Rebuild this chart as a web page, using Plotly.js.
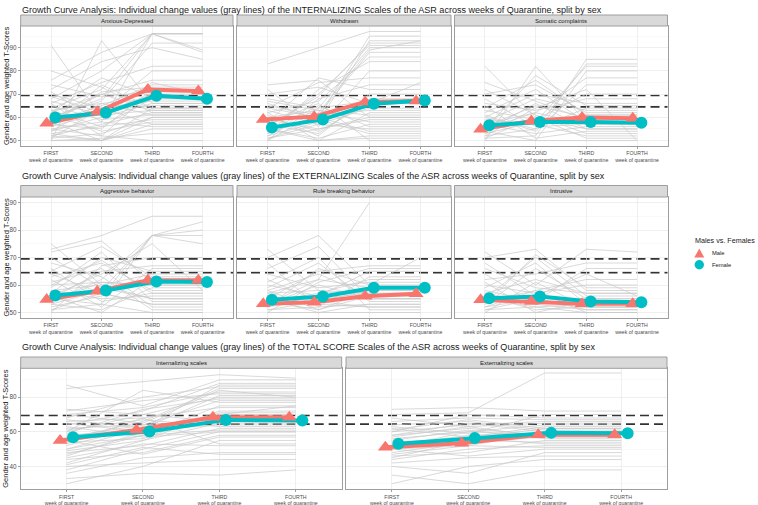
<!DOCTYPE html>
<html>
<head>
<meta charset="utf-8">
<script src="https://cdn.plot.ly/plotly-3.0.1.min.js"></script>
<style>html,body{margin:0;padding:0;background:#fff;}#chart{width:758px;height:505px;}</style>
</head>
<body>
<div id="chart"></div>
<script>
// ---------------- DATA ----------------
const weeks = ['FIRST', 'SECOND', 'THIRD', 'FOURTH'];
const weekSub = 'week of quarantine';
const sexLabels = ['Male', 'Female'];
const legendTitle = 'Males vs. Females';
const yTitle = 'Gender and age weighted T-Scores';
const cutoffs = [64.5, 69.5];

const rowTitles = [
  'Growth Curve Analysis: Individual change values (gray lines) of the INTERNALIZING Scales of the ASR across weeks of Quarantine, split by sex',
  'Growth Curve Analysis: Individual change values (gray lines) of the EXTERNALIZING Scales of the ASR across weeks of Quarantine, split by sex',
  'Growth Curve Analysis: Individual change values (gray lines) of the TOTAL SCORE Scales of the ASR across weeks of Quarantine, split by sex'
];
const panelNames = ['Anxious-Depressed', 'Withdrawn', 'Somatic complaints',
  'Aggressive behavior', 'Rule breaking behavior', 'Intrusive',
  'Internalizing scales', 'Externalizing scales'];

// group means (Male / Female) per week
const anxDepMale = [57.4, 62.3, 72.0, 71.3];
const anxDepFemale = [59.9, 62.0, 69.3, 68.0];
const withdrawnMale = [59.1, 60.3, 66.6, 67.0];
const withdrawnFemale = [55.6, 59.1, 65.9, 67.3];
const somaticMale = [54.9, 58.4, 59.9, 59.6];
const somaticFemale = [56.6, 58.0, 58.0, 57.7];
const aggressiveMale = [54.7, 57.7, 61.7, 61.7];
const aggressiveFemale = [56.2, 58.0, 61.3, 61.1];
const ruleBreakMale = [53.2, 53.7, 55.9, 56.8];
const ruleBreakFemale = [54.6, 55.8, 59.0, 59.0];
const intrusiveMale = [54.6, 54.0, 53.2, 53.2];
const intrusiveFemale = [55.2, 55.8, 54.0, 53.7];
const internalMale = [55.0, 61.1, 68.4, 68.4];
const internalFemale = [56.9, 60.2, 66.9, 66.5];
const externalMale = [51.1, 53.4, 58.3, 58.3];
const externalFemale = [53.1, 56.5, 59.4, 59.2];

// individual trajectories (gray lines), one row per participant: weeks 1..4
const anxDepGray = [
  [50,50,55,55],[51,53,60,60],[52,57,62,62],[53,50,64,64],[54,60,66,66],[55,58,96,96],
  [56,62,70,70],[57,55,72,72],[58,65,74,74],[59,63,65,65],[60,68,96,89],[61,54,58,58],
  [62,70,76,76],[63,66,68,68],[64,72,96,96],[65,59,61,61],[66,75,82,82],[67,61,63,63],
  [68,80,96,88],[70,64,67,67],[72,84,90,85],[74,69,71,71],[76,88,96,96],[80,73,62,62],
  [91,60,75,70],[50,93,66,66],[55,52,50,50],[58,50,57,57],[60,67,92,92],[53,56,59,59],
  [57,71,73,73],[62,77,69,69],[50,51,53,53],[69,62,80,80],[56,74,64,64],[52,50,60,60],
  [54,66,61,61],[71,58,56,56],[66,52,71,71],[59,70,63,63],[63,56,68,68],[51,64,57,57]
];
const withdrawnGray = [
  [83,90,97,97],[50,50,51,51],[51,55,60,60],[52,58,93,93],[53,61,88,88],[54,65,56,56],
  [55,50,62,62],[56,70,91,91],[57,53,68,68],[58,77,72,72],[59,60,95,95],[60,63,58,58],
  [61,52,70,70],[62,67,86,86],[63,57,64,64],[64,75,77,77],[66,59,53,53],[68,64,90,90],
  [70,73,66,66],[72,56,80,80],[74,76,60,60],[50,62,89,93],[50,68,74,74],[55,51,57,57],
  [57,66,50,50],[53,72,84,84],[60,54,66,75],[65,61,63,63],[51,57,55,55],[62,50,52,52],
  [67,63,61,61],[56,69,92,92],[59,55,59,59],[64,60,54,54],[52,64,67,67]
];
const somaticGray = [
  [82,60,55,55],[50,82,58,58],[51,52,85,85],[52,55,83,83],[53,58,82,82],[54,50,80,80],
  [55,62,77,77],[56,65,60,60],[57,53,56,56],[58,68,63,63],[59,57,52,52],[60,70,66,66],
  [61,54,74,74],[62,72,58,58],[63,59,70,70],[64,76,61,61],[65,51,54,54],[66,63,68,68],
  [68,56,57,57],[70,74,62,62],[72,61,53,53],[75,67,59,59],[50,50,50,50],[52,64,72,50],
  [55,78,65,65],[58,57,61,61],[51,60,51,51],[54,66,55,55],[57,62,57,57],[60,55,64,64]
];
const aggressiveGray = [
  [75,60,55,55],[73,78,85,85],[50,50,50,50],[51,53,78,83],[52,56,78,80],[53,58,78,78],
  [54,62,78,75],[55,65,67,67],[56,50,62,62],[57,70,65,65],[58,55,56,56],[59,72,54,54],
  [60,61,60,60],[61,66,52,52],[62,52,66,66],[63,68,58,58],[64,57,53,53],[65,74,63,63],
  [66,54,57,57],[68,63,51,51],[70,59,55,55],[72,76,61,61],[50,67,70,70],[53,51,59,59],
  [56,64,75,58],[58,60,64,64],[51,57,53,53],[55,53,50,50],[60,69,57,57],[54,61,60,60]
];
const ruleBreakGray = [
  [73,58,55,55],[70,78,60,60],[50,50,50,50],[51,52,53,53],[52,55,57,57],[53,62,90,null],
  [54,57,62,62],[55,65,67,67],[56,53,52,52],[57,62,59,59],[58,51,56,56],[59,68,54,54],
  [60,56,65,65],[61,70,51,51],[62,54,58,58],[64,59,61,61],[66,74,55,55],[68,52,63,63],
  [50,61,66,66],[52,66,60,70],[55,50,53,53],[57,58,57,57],[51,54,52,52],[53,60,55,55],
  [58,64,56,56],[54,51,58,58]
];
const intrusiveGray = [
  [70,73,58,58],[72,60,73,72],[50,50,50,50],[51,52,53,53],[52,55,51,51],[53,66,55,55],
  [54,58,62,62],[55,70,56,56],[56,51,52,52],[57,62,57,57],[58,54,66,66],[59,68,53,53],
  [60,57,60,60],[61,50,54,54],[62,64,68,68],[64,53,51,51],[66,59,57,57],[68,56,64,56],
  [50,61,52,52],[53,71,59,59],[55,52,50,50],[51,55,52,52],[57,53,55,55],[52,58,50,50]
];
const internalGray = [
  [87,75,90,90],[85,89,93,91],[30,40,55,55],[33,36,35,38],[36,45,48,48],[38,50,60,60],
  [40,42,44,44],[42,55,65,65],[44,48,58,58],[46,60,70,70],[48,52,62,62],[50,58,75,75],
  [52,63,68,68],[54,56,72,72],[56,66,85,85],[58,61,64,64],[60,70,80,80],[62,64,78,78],
  [64,72,88,88],[66,68,74,74],[68,80,86,86],[70,74,83,83],[72,78,82,82],[73,70,66,66],
  [45,53,52,52],[55,47,57,57],[60,84,77,77],[50,62,87,87],[47,58,61,61],[65,60,70,75],
  [53,68,53,53],[70,65,84,80],[57,64,67,67],[63,57,60,60],[41,51,47,47],[59,73,79,79],
  [49,55,71,71],[61,67,63,63],[67,62,81,81]
];
const externalGray = [
  [70,71,94,94],[73,74,72,72],[30,40,44,44],[35,30,38,38],[40,36,48,48],[42,45,46,46],
  [44,50,52,52],[46,48,55,55],[48,54,57,57],[50,52,60,60],[52,58,59,59],[54,56,62,62],
  [56,60,64,64],[58,62,58,58],[60,64,66,66],[62,57,63,63],[64,66,61,61],[66,68,67,67],
  [68,63,65,65],[45,55,54,54],[55,61,56,56],[60,70,68,68],[50,46,50,50],[58,65,60,60],
  [63,59,70,70],[53,57,53,53],[47,52,51,51],[57,63,57,57],[61,67,62,62],[51,60,58,58]
];

// ---------------- LAYOUT (pixels) ----------------
const W = 758, H = 505;
const rows = [
  {plot: [26, 146], strip: [15, 26], title: 10, range: [47.65, 99.35], dtick: 10, minor: 5},
  {plot: [197, 318], strip: [185.5, 197], title: 176, range: [48, 92], dtick: 10, minor: 5},
  {plot: [368.3, 489.3], strip: [357, 368.3], title: 347, range: [26.8, 96.7], dtick: 20, minor: 10}
];
const cols3 = [[20.7, 233], [237, 451], [454.5, 667.5]];
const cols2 = [[20.7, 341.7], [346, 667]];

const panelGray = [anxDepGray, withdrawnGray, somaticGray, aggressiveGray, ruleBreakGray, intrusiveGray, internalGray, externalGray];
const panelMale = [anxDepMale, withdrawnMale, somaticMale, aggressiveMale, ruleBreakMale, intrusiveMale, internalMale, externalMale];
const panelFemale = [anxDepFemale, withdrawnFemale, somaticFemale, aggressiveFemale, ruleBreakFemale, intrusiveFemale, internalFemale, externalFemale];
const panelRow = [0, 0, 0, 1, 1, 1, 2, 2];
const panelCols = [cols3[0], cols3[1], cols3[2], cols3[0], cols3[1], cols3[2], cols2[0], cols2[1]];

const MALE = '#F8766D', FEMALE = '#00BFC4';
const GRAY = '#C9C9C9';
const BORDER = '#9E9E9E';
const FONT = 'Liberation Sans, Arial, Helvetica, sans-serif';
const dodge = 0.085;

const fx = p => p / W;
const fy = p => 1 - p / H;

const traces = [];
const layout = {
  width: W, height: H,
  margin: {l: 0, r: 0, t: 0, b: 0},
  paper_bgcolor: '#fff', plot_bgcolor: '#fff',
  font: {family: FONT, color: '#4D4D4D'},
  showlegend: false,
  shapes: [], annotations: []
};

const tickText = weeks.map(w => w + '<br>' + weekSub);
const xCat = weeks.map((w, i) => i + 1);

panelNames.forEach((name, p) => {
  const r = rows[panelRow[p]];
  const c = panelCols[p];
  const n = p + 1;
  const xa = 'x' + (n === 1 ? '' : n), ya = 'y' + (n === 1 ? '' : n);
  const xk = 'xaxis' + (n === 1 ? '' : n), yk = 'yaxis' + (n === 1 ? '' : n);
  const isLeft = (c === cols3[0] || c === cols2[0]);

  layout[xk] = {
    domain: [fx(c[0]), fx(c[1])], anchor: ya, range: [0.4, 4.6],
    tickvals: xCat, ticktext: tickText, tickfont: {size: 5.2, color: '#4D4D4D'},
    showgrid: true, gridcolor: '#EBEBEB', gridwidth: 0.8, zeroline: false,
    showline: true, mirror: true, linecolor: BORDER, linewidth: 1,
    ticks: 'outside', ticklen: 2, tickcolor: BORDER, fixedrange: true
  };
  layout[yk] = {
    domain: [fy(r.plot[1]), fy(r.plot[0])], anchor: xa, range: r.range,
    dtick: r.dtick, tick0: 0, tickfont: {size: 6.3, color: '#4D4D4D'},
    showticklabels: isLeft,
    showgrid: true, gridcolor: '#EBEBEB', gridwidth: 0.8, zeroline: false,
    minor: {dtick: r.minor, tick0: 0, showgrid: true, gridcolor: '#F3F3F3', gridwidth: 0.5},
    showline: true, mirror: true, linecolor: BORDER, linewidth: 1,
    ticks: isLeft ? 'outside' : '', ticklen: 2, tickcolor: BORDER, fixedrange: true
  };
  if (isLeft) {
    layout.annotations.push({xref: 'paper', yref: 'paper', x: fx(11.5), y: fy((r.plot[0] + r.plot[1]) / 2),
      text: yTitle, textangle: -90, showarrow: false, xanchor: 'right', yanchor: 'middle',
      font: {size: 7.5, color: '#1A1A1A'}, borderpad: 0});
  }

  // strip
  layout.shapes.push({type: 'rect', xref: 'paper', yref: 'paper', x0: fx(c[0]), x1: fx(c[1]),
    y0: fy(r.strip[1]), y1: fy(r.strip[0]), fillcolor: '#D9D9D9', line: {color: BORDER, width: 1}, layer: 'above'});
  layout.annotations.push({xref: 'paper', yref: 'paper', x: fx((c[0] + c[1]) / 2), y: fy((r.strip[0] + r.strip[1]) / 2),
    text: name, showarrow: false, xanchor: 'center', yanchor: 'middle', font: {size: 6, color: '#1A1A1A'}});

  // cutoff dashed lines
  cutoffs.forEach(v => {
    layout.shapes.push({type: 'line', xref: xa + ' domain', yref: ya, x0: 0, x1: 1, y0: v, y1: v,
      line: {color: '#333333', width: 1.8, dash: '9px,5px'}, layer: 'below'});
  });

  // gray individual lines
  const gx = [], gy = [];
  panelGray[p].forEach(ind => {
    ind.forEach((v, i) => { gx.push(i + 1); gy.push(v); });
    gx.push(null); gy.push(null);
  });
  traces.push({type: 'scatter', mode: 'lines', x: gx, y: gy, xaxis: xa, yaxis: ya,
    line: {color: GRAY, width: 0.7}, connectgaps: false, hoverinfo: 'skip'});

  // group means
  const mx = xCat.map(v => v - dodge), fxs = xCat.map(v => v + dodge);
  traces.push({type: 'scatter', mode: 'lines', x: mx, y: panelMale[p], xaxis: xa, yaxis: ya,
    line: {color: MALE, width: 4}});
  traces.push({type: 'scatter', mode: 'lines', x: fxs, y: panelFemale[p], xaxis: xa, yaxis: ya,
    line: {color: FEMALE, width: 4}});
  traces.push({type: 'scatter', mode: 'markers', x: mx, y: panelMale[p], xaxis: xa, yaxis: ya,
    name: sexLabels[0], marker: {symbol: 'triangle-up', size: 13, color: MALE}});
  traces.push({type: 'scatter', mode: 'markers', x: fxs, y: panelFemale[p], xaxis: xa, yaxis: ya,
    name: sexLabels[1], marker: {symbol: 'circle', size: 12, color: FEMALE}});
});

rowTitles.forEach((t, i) => {
  layout.annotations.push({xref: 'paper', yref: 'paper', x: fx(20), y: fy(rows[i].title),
    text: t, showarrow: false, xanchor: 'left', yanchor: 'middle', font: {size: 9.05, color: '#1A1A1A'}});
});

// ---- manual legend (keys drawn as shapes in paper space) ----
const lgX = 693, lgTitleY = 240.3, keyX = 699.3, keyYs = [253, 264.7];
layout.annotations.push({xref: 'paper', yref: 'paper', x: fx(lgX), y: fy(lgTitleY), text: legendTitle,
  showarrow: false, xanchor: 'left', yanchor: 'middle', font: {size: 7.2, color: '#1A1A1A'}});
{
  const cy = keyYs[0], hw = 5, hh = 4.6;
  const path = 'M ' + fx(keyX - hw) + ' ' + fy(cy + hh) + ' L ' + fx(keyX + hw) + ' ' + fy(cy + hh) +
    ' L ' + fx(keyX) + ' ' + fy(cy - hh) + ' Z';
  layout.shapes.push({type: 'path', xref: 'paper', yref: 'paper', path: path, fillcolor: MALE, line: {width: 0}});
}
{
  const cy = keyYs[1], rad = 4.7;
  layout.shapes.push({type: 'circle', xref: 'paper', yref: 'paper', x0: fx(keyX - rad), x1: fx(keyX + rad),
    y0: fy(cy + rad), y1: fy(cy - rad), fillcolor: FEMALE, line: {width: 0}});
}
sexLabels.forEach((s, i) => {
  layout.annotations.push({xref: 'paper', yref: 'paper', x: fx(710), y: fy(keyYs[i]), text: s,
    showarrow: false, xanchor: 'left', yanchor: 'middle', font: {size: 5.8, color: '#1A1A1A'}});
});

Plotly.newPlot('chart', traces, layout, {displayModeBar: false, staticPlot: true});
</script>
</body>
</html>
